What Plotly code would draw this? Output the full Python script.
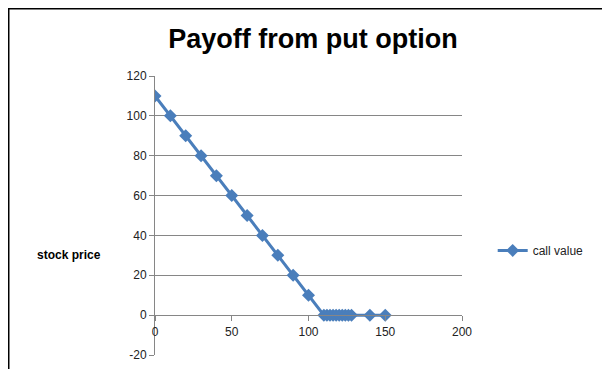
import plotly.graph_objects as go

stock_price = [0, 10, 20, 30, 40, 50, 60, 70, 80, 90, 100,
               110, 112, 114, 116, 118, 120, 122, 124, 126, 128, 140, 150]
call_value = [110, 100, 90, 80, 70, 60, 50, 40, 30, 20, 10,
              0, 0, 0, 0, 0, 0, 0, 0, 0, 0, 0, 0]
x_ticks = [0, 50, 100, 150, 200]
y_ticks = [-20, 0, 20, 40, 60, 80, 100, 120]
y_tick_text = ["-20", "0", "20", "40", "60", "80", "100", "120"]

blue = "#4A7EBB"
fig = go.Figure()
fig.add_trace(go.Scatter(
    x=stock_price, y=call_value, mode="lines+markers", name="call value",
    line=dict(color=blue, width=3),
    marker=dict(symbol="diamond", size=10, color=blue),
))

ymin, ymax = -20, 120
fig.update_layout(
    width=610, height=369,
    margin=dict(l=147, r=156, t=68, b=22, autoexpand=False),
    paper_bgcolor="white", plot_bgcolor="white",
    font=dict(family="Liberation Sans, Arial, sans-serif", size=11, color="#222"),
    title=dict(text="<b>Payoff from put option</b>", x=0.5, xanchor="center",
               y=0.918, yanchor="middle",
               font=dict(size=27, color="black", family="Liberation Sans, Arial")),
    xaxis=dict(range=[0, 200], tickvals=x_ticks, showgrid=False, zeroline=False,
               showline=True, linecolor="#868686", linewidth=1,
               ticks="outside", ticklen=5, tickcolor="#868686",
               anchor="free", position=(0 - ymin) / (ymax - ymin),
               tickfont=dict(size=12)),
    yaxis=dict(range=[ymin, ymax], tickvals=y_ticks, ticktext=y_tick_text,
               showgrid=True, gridcolor="#868686", gridwidth=1, zeroline=False,
               showline=True, linecolor="#868686", linewidth=1,
               ticks="outside", ticklen=5, tickcolor="#868686",
               tickfont=dict(size=12), domain=[0, 1]),
    legend=dict(x=1.1, y=0.375, xanchor="left", yanchor="middle",
                font=dict(size=12, color="#222"), bgcolor="rgba(0,0,0,0)"),
    showlegend=True,
)
fig.add_annotation(text="<b>stock price</b>", xref="paper", yref="paper",
                   x=-0.17, y=0.36, xanchor="right", yanchor="middle",
                   showarrow=False, font=dict(size=12, color="black"))
fig.add_shape(type="rect", xref="paper", yref="paper",
              x0=-0.4764, x1=1.6, y0=-0.2, y1=1.241,
              line=dict(color="black", width=1.5), fillcolor="rgba(0,0,0,0)")
fig.write_html("out.html")
